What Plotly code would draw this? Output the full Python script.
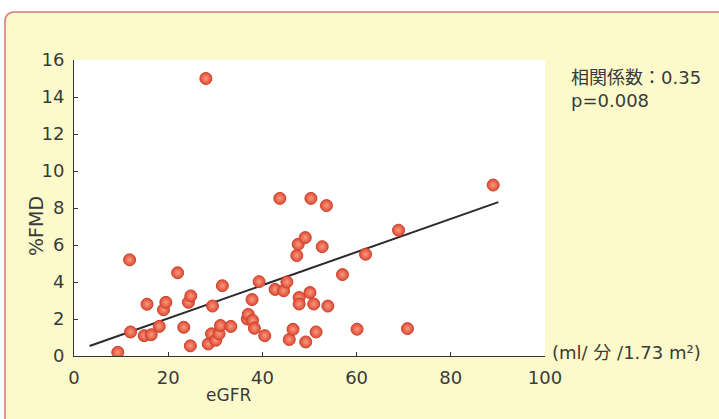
import plotly.graph_objects as go

# eGFR (x) and %FMD (y) values
egfr = [9.3, 11.8, 12.0, 14.9, 16.4, 15.5, 18.1, 19.0, 19.5, 22.0,
        23.3, 24.3, 24.8, 24.7, 28.0, 28.5, 29.2, 29.4, 30.1, 30.8,
        31.1, 31.5, 33.3, 36.8, 37.0, 37.9, 38.3, 37.8, 39.3, 40.5,
        42.7, 44.5, 45.2, 43.7, 45.7, 46.5, 47.3, 47.6, 47.8, 47.8,
        49.1, 49.2, 50.1, 50.3, 50.9, 51.4, 52.7, 53.6, 53.9, 57.0,
        60.1, 61.9, 68.9, 70.8, 89.0]
fmd = [0.2, 5.2, 1.3, 1.1, 1.15, 2.8, 1.6, 2.5, 2.9, 4.5,
       1.55, 2.9, 3.25, 0.55, 15.0, 0.65, 1.2, 2.7, 0.85, 1.2,
       1.65, 3.8, 1.6, 2.0, 2.25, 1.93, 1.5, 3.05, 4.02, 1.1,
       3.6, 3.53, 4.0, 8.52, 0.89, 1.44, 5.43, 6.04, 3.16, 2.81,
       6.4, 0.76, 3.43, 8.52, 2.81, 1.3, 5.91, 8.13, 2.7, 4.4,
       1.45, 5.5, 6.8, 1.48, 9.24]

# regression line
fit_x = [3.3, 90.1]
fit_slope = 0.0896
fit_intercept = 0.244
fit_y = [fit_intercept + fit_slope * v for v in fit_x]

x_ticks = [0, 20, 40, 60, 80, 100]
y_ticks = [0, 2, 4, 6, 8, 10, 12, 14, 16]

stats_text = "相関係数：0.35<br>p=0.008"
unit_text = "(ml/ 分 /1.73 m²)"
x_title = "eGFR"
y_title = "%FMD"

FONT = "DejaVu Sans, Noto Sans CJK JP, sans-serif"
TXT = "#3a3a3a"

W, H = 719, 419
ML, MR, MT, MB = 74, 174, 60, 63
PW = W - ML - MR
PH = H - MT - MB


def px(x):
    return (x - ML) / PW


def py(y):
    return (H - MB - y) / PH


fig = go.Figure()
fig.add_trace(go.Scatter(x=fit_x, y=fit_y, mode="lines",
                         line=dict(color="#2b2b2b", width=2), hoverinfo="skip"))
fig.add_trace(go.Scatter(
    x=egfr, y=fmd, mode="markers",
    marker=dict(size=12, color="#e04a34",
                gradient=dict(type="radial", color="#f89a80"),
                line=dict(color="#c9412d", width=1)),
))

# background panel with rounded top-left corner
x0, y0, x1, y1 = px(5), py(12), px(730), py(430)
rx = 10 / PW
ry = 10 / PH
path = (f"M {x0},{y1} L {x0},{y0 - ry} Q {x0},{y0} {x0 + rx},{y0} "
        f"L {x1},{y0} L {x1},{y1} Z")
shapes = [
    dict(type="path", path=path, xref="paper", yref="paper",
         fillcolor="#fcfacb", line=dict(color="#d9777a", width=1.5), layer="below"),
    dict(type="rect", xref="paper", yref="paper", x0=0, y0=0, x1=1, y1=1,
         fillcolor="white", line=dict(width=0), layer="below"),
]

annotations = [
    dict(text=stats_text, x=px(569), y=py(65), xref="paper", yref="paper",
         xanchor="left", yanchor="top", align="left", showarrow=False,
         font=dict(size=18, color=TXT, family=FONT)),
    dict(text=unit_text, x=px(550), y=py(352), xref="paper", yref="paper",
         xanchor="left", yanchor="middle", align="left", showarrow=False,
         font=dict(size=18, color=TXT, family=FONT)),
    dict(text=x_title, x=px(228), y=py(395), xref="paper", yref="paper",
         xanchor="center", yanchor="middle", showarrow=False,
         font=dict(size=17, color=TXT, family=FONT)),
    dict(text=y_title, x=px(36), y=py(226), xref="paper", yref="paper",
         xanchor="center", yanchor="middle", showarrow=False, textangle=-90,
         font=dict(size=19, color=TXT, family=FONT)),
]

fig.update_layout(
    width=W, height=H,
    margin=dict(l=ML, r=MR, t=MT, b=MB),
    paper_bgcolor="white", plot_bgcolor="white",
    showlegend=False,
    shapes=shapes, annotations=annotations,
    font=dict(family=FONT, color=TXT, size=18),
)
fig.update_xaxes(range=[0, 100], tickvals=x_ticks, ticks="inside", ticklen=4,
                 tickcolor="#333", showline=True, linecolor="#333", linewidth=1,
                 showgrid=False, zeroline=False, ticklabelstandoff=5,
                 tickfont=dict(size=18, color=TXT, family=FONT))
fig.update_yaxes(range=[0, 16], tickvals=y_ticks, ticks="inside", ticklen=4,
                 tickcolor="#333", showline=True, linecolor="#333", linewidth=1,
                 showgrid=False, zeroline=False, ticklabelstandoff=5,
                 tickfont=dict(size=18, color=TXT, family=FONT))

fig.write_html("out.html")
